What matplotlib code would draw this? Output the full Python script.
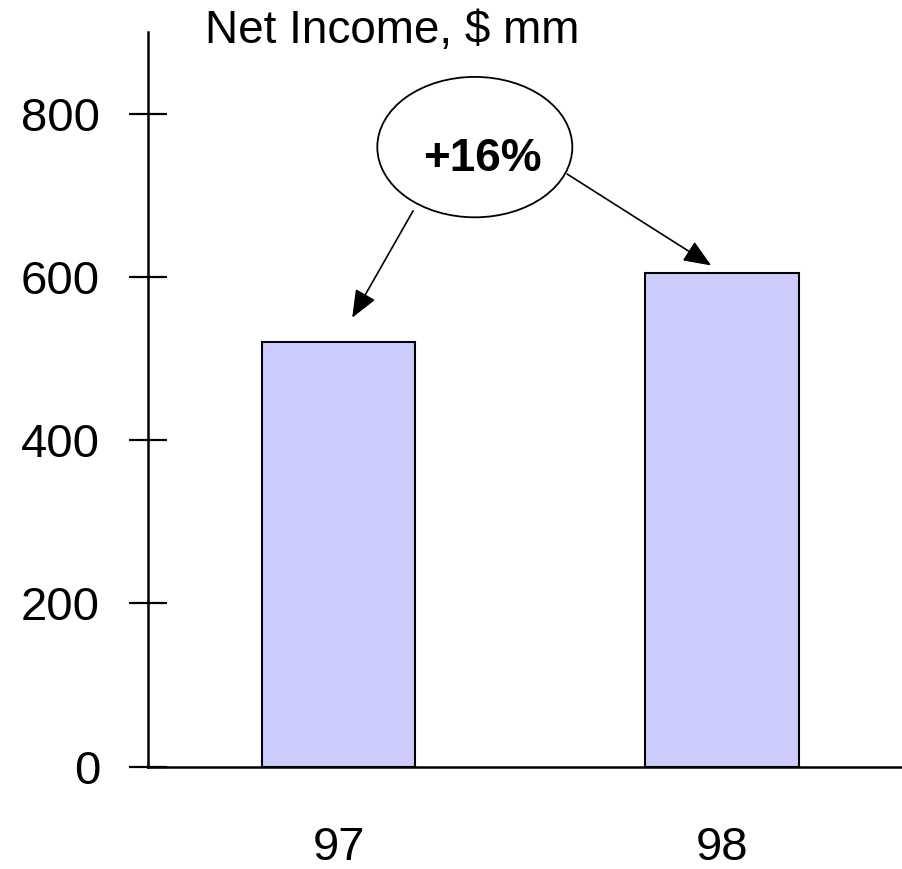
import matplotlib
matplotlib.use("Agg")
import matplotlib.pyplot as plt
from matplotlib.patches import Ellipse

plt.rcParams['font.family'] = ['Liberation Sans', 'DejaVu Sans']

# Net income by year, $ mm
years = ["97", "98"]
net_income = [520, 605]
growth_label = "+16%"
y_ticks = [0, 200, 400, 600, 800]

W, H = 903, 869
fig = plt.figure(figsize=(W / 100, H / 100), dpi=100)
ax = fig.add_axes([148 / W, (H - 766.7) / H, 754 / W, 734.7 / H])

x = list(range(len(years)))
ax.bar(x, net_income, width=0.40, color="#CCCCFF", edgecolor="black",
       linewidth=1.5, zorder=2)

ax.set_xlim(-0.498, 1.47)
ax.set_ylim(0, 900)
ax.set_xticks(x)
ax.set_xticklabels(years)
ax.set_yticks(y_ticks)

for s in ("top", "right"):
    ax.spines[s].set_visible(False)
for s in ("left", "bottom"):
    ax.spines[s].set_linewidth(1.8)

ax.tick_params(axis="y", direction="inout", length=27, width=1.6,
               labelsize=34, pad=21)
ax.tick_params(axis="x", length=0, labelsize=34, pad=43)

fig.text(205 / W, 1 - 43 / H, "Net Income, $ mm", fontsize=33,
         va="baseline", ha="left")

# growth callout
ell = Ellipse((0.355, 759), width=0.509, height=172, facecolor="white",
              edgecolor="black", linewidth=1.3, zorder=3, clip_on=False)
ax.add_patch(ell)
ax.text(0.374, 745, growth_label, fontsize=33, fontweight="bold",
        ha="center", va="center", zorder=4)

arrow_kw = dict(arrowstyle="-|>,head_length=0.85,head_width=0.35",
                mutation_scale=20, lw=1.2, color="black",
                shrinkA=0, shrinkB=0)
ax.annotate("", xy=(0.035, 550), xytext=(0.194, 681),
            arrowprops=arrow_kw, zorder=3)
ax.annotate("", xy=(0.972, 614), xytext=(0.596, 726),
            arrowprops=arrow_kw, zorder=3)

fig.savefig("out.png", dpi=100)
